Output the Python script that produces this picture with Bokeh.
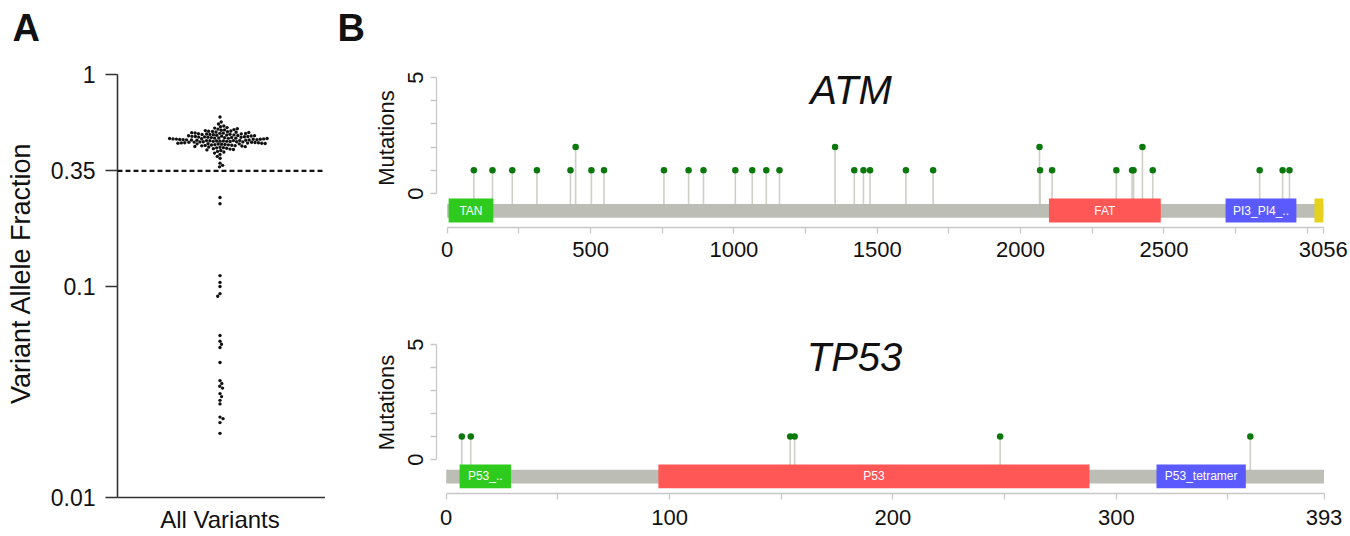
import math
from bokeh.plotting import figure
from bokeh.models import Range1d, FixedTicker, Span, Label
from bokeh.layouts import row, column
from bokeh.core.properties import value
from bokeh.embed import file_html
from bokeh.resources import INLINE

FONT = "Liberation Sans"
TEXT = "#111111"

# ---------------- data: panel A (variant allele fractions) ----------------
vaf_category = "All Variants"
vaf_cutoff = 0.35
vaf_ticks = [0.01, 0.1, 0.35, 1]
vaf_tick_labels = ["0.01", "0.1", "0.35", "1"]
vaf_values = [
    0.630, 0.596, 0.583, 0.571, 0.566, 0.561, 0.558, 0.554, 0.552, 0.549, 0.547, 0.545,
    0.543, 0.541, 0.539, 0.538, 0.536, 0.535, 0.533, 0.532, 0.531, 0.529, 0.528, 0.527, 0.526, 0.525,
    0.524, 0.523, 0.522, 0.521, 0.520, 0.519, 0.518, 0.517, 0.516, 0.515, 0.514,
    0.513, 0.512, 0.511, 0.510, 0.509, 0.509, 0.508, 0.507, 0.506, 0.505, 0.505, 0.504, 0.503, 0.502,
    0.501, 0.500, 0.500, 0.499, 0.498, 0.498, 0.497, 0.496, 0.496, 0.495, 0.494, 0.494, 0.493, 0.492,
    0.492, 0.491, 0.490, 0.490,
    0.489, 0.489, 0.488, 0.487, 0.487, 0.486, 0.485, 0.485, 0.484, 0.483, 0.483, 0.482, 0.481, 0.481,
    0.480, 0.480,
    0.479, 0.478, 0.478, 0.477, 0.476, 0.476, 0.475, 0.474, 0.473, 0.473, 0.472, 0.471, 0.470, 0.470,
    0.469, 0.468, 0.467, 0.466, 0.465, 0.464, 0.463, 0.462, 0.461, 0.460,
    0.459, 0.457, 0.456, 0.454, 0.453, 0.451, 0.450,
    0.448, 0.446, 0.444, 0.442, 0.440, 0.437, 0.433, 0.430, 0.425, 0.419, 0.410, 0.402,
    0.381, 0.372, 0.366,
    0.262, 0.245,
    0.112, 0.104, 0.0995, 0.092, 0.0895,
    0.0583, 0.0548, 0.0530, 0.0512,
    0.0435,
    0.0357, 0.0346, 0.0336, 0.0329, 0.0310, 0.0300, 0.0288, 0.0277,
    0.0240, 0.0236, 0.0226,
    0.0201,
]

# ---------------- data: panel B (lollipops) ----------------
atm_name = "ATM"
atm_length = 3056
atm_ticks = [0, 250, 500, 750, 1000, 1250, 1500, 1750, 2000, 2250, 2500, 2750, 3000, 3056]
atm_tick_labels = ["0", "", "500", "", "1000", "", "1500", "", "2000", "", "2500", "", "", "3056"]
atm_mut_pos = [93, 158, 227, 313, 430, 448, 503, 547, 756, 842, 894, 1005, 1064, 1113, 1159,
               1353, 1420, 1452, 1475, 1600, 1695, 2066, 2068, 2110, 2334, 2389, 2394, 2425,
               2461, 2834, 2914, 2938]
atm_mut_count = [1, 1, 1, 1, 1, 2, 1, 1, 1, 1, 1, 1, 1, 1, 1,
                 2, 1, 1, 1, 1, 1, 2, 1, 1, 1, 1, 1, 2,
                 1, 1, 1, 1]
atm_dom_name = ["TAN", "FAT", "PI3_PI4_..", ""]
atm_dom_start = [5, 2099, 2715, 3025]
atm_dom_end = [161, 2489, 2962, 3056]

tp53_name = "TP53"
tp53_length = 393
tp53_ticks = [0, 50, 100, 150, 200, 250, 300, 350, 393]
tp53_tick_labels = ["0", "", "100", "", "200", "", "300", "", "393"]
tp53_mut_pos = [7, 11, 154, 156, 248, 360]
tp53_mut_count = [1, 1, 1, 1, 1, 1]
tp53_dom_name = ["P53_..", "P53", "P53_tetramer"]
tp53_dom_start = [6, 95, 318]
tp53_dom_end = [29, 288, 358]

mut_ticks = [0, 1, 2, 3, 4, 5]
mut_tick_labels = ["0", "", "", "", "", "5"]

# ---------------- styles ----------------
DOM_COLORS = {"TAN": "#2ECB1E", "FAT": "#FF5656", "PI3_PI4_..": "#5A5AFF", "": "#E6D21E",
              "P53_..": "#2ECB1E", "P53": "#FF5656", "P53_tetramer": "#5A5AFF"}
BACKBONE = "#BCBDB5"
STEM = "#CFCFC8"
DOT = "#0B780B"
AXIS_B = "#C8C8C8"
AXIS_A = "#333333"


def swarm_offsets(ys, d):
    # place points centre-out (closest to the median first), each as near the axis as possible
    med = sorted(ys)[len(ys) // 2]
    order = sorted(range(len(ys)), key=lambda i: abs(ys[i] - med))
    placed = []
    out = [0.0] * len(ys)
    for k, i in enumerate(order):
        y = ys[i]
        near = [(px, py) for (px, py) in placed if abs(py - y) < d]
        cands = [0.0]
        for px, py in near:
            dx = math.sqrt(max(d * d - (py - y) ** 2, 0.0))
            cands += [px + dx, px - dx]
        pref_neg = (k % 2 == 1)
        cands.sort(key=lambda c: (round(abs(c), 6), (c > 0) if pref_neg else (c < 0)))
        for c in cands:
            if all((c - px) ** 2 + (y - py) ** 2 >= d * d - 1e-6 for px, py in near):
                out[i] = c
                break
        placed.append((out[i], y))
    return out


# ---------------- panel A ----------------
A_W, A_H = 325, 536
A_FL, A_FR, A_FT, A_FB = 117, 325, 48, 497      # frame edges in canvas pixels
A_Y1_PX = 74                                    # pixel row of VAF = 1
A_FW = A_FR - A_FL
A_PXDEC = (A_FB - A_Y1_PX) / 2.0
A_CENTER_PX = 102.5
ax0 = 1 - A_CENTER_PX / A_FW

pA = figure(width=A_W, height=A_H, y_axis_type="log", title="A",
            x_range=Range1d(ax0, ax0 + 1),
            y_range=Range1d(vaf_ticks[0], vaf_ticks[-1] * 10 ** ((A_Y1_PX - A_FT) / A_PXDEC)),
            min_border_left=A_FL, min_border_right=A_W - A_FR, min_border_top=A_FT,
            min_border_bottom=A_H - A_FB, output_backend="svg", toolbar_location=None)
pA.outline_line_color = None
pA.grid.visible = False
pA.background_fill_color = "white"
pA.border_fill_color = "white"
pA.title.text_font = FONT
pA.title.text_font_size = "38px"
pA.title.text_font_style = "bold"
pA.title.text_color = TEXT
pA.title.align = "left"
pA.title.offset = 12 - A_FL
pA.title.standoff = 0
pA.title.vertical_align = "bottom"

ypx = [math.log10(v) * A_PXDEC for v in vaf_values]
offs = swarm_offsets(ypx, 3.4)
pA.scatter(x=[1 + o / A_FW for o in offs], y=vaf_values, size=3.4,
           fill_color=TEXT, line_color=None)
pA.add_layout(Span(location=vaf_cutoff, dimension="width", line_color=TEXT,
                   line_width=2.2, line_dash="5 3"))

ya = pA.yaxis[0]
ya.ticker = FixedTicker(ticks=vaf_ticks, minor_ticks=[])
ya.major_label_overrides = dict(zip(vaf_ticks, vaf_tick_labels))
ya.bounds = (vaf_ticks[0], vaf_ticks[-1])
ya.axis_line_color = AXIS_A
ya.axis_line_width = 1.6
ya.major_tick_line_color = AXIS_A
ya.major_tick_line_width = 1.6
ya.major_tick_out = 12
ya.major_tick_in = 0
ya.minor_tick_line_color = None
ya.major_label_text_font = FONT
ya.major_label_text_font_size = "23px"
ya.major_label_text_color = TEXT
ya.major_label_standoff = 10
ya.axis_label = "Variant Allele Fraction"
ya.axis_label_text_font = FONT
ya.axis_label_text_font_size = "27px"
ya.axis_label_text_font_style = "normal"
ya.axis_label_text_color = TEXT
ya.axis_label_standoff = 12

xa = pA.xaxis[0]
xa.ticker = FixedTicker(ticks=[1])
xa.major_label_overrides = {1: vaf_category}
xa.axis_line_color = AXIS_A
xa.axis_line_width = 1.6
xa.major_tick_out = 0
xa.major_tick_in = 0
xa.major_tick_line_color = None
xa.minor_tick_line_color = None
xa.major_label_text_font = FONT
xa.major_label_text_font_size = "24px"
xa.major_label_text_color = TEXT
xa.major_label_standoff = 8


# ---------------- panel B ----------------
B_LEFT, B_W = 325, 1025


def lollipop(name, letter, length, ticks, tick_labels, mpos, mcount, dnames, dstart, dend,
             fig_top, height, frame_left, frame_top, frame_bottom, zero_x, zero_y,
             scale, unit, standoff, title_x, title_base):
    bl = frame_left - B_LEFT
    bt = frame_top - fig_top
    bb = fig_top + height - frame_bottom
    fw = B_W - bl
    x0 = (frame_left - zero_x) / scale
    x1 = x0 + fw / scale
    y0 = (zero_y - frame_bottom) / unit
    y1 = (zero_y - frame_top) / unit
    p = figure(width=B_W, height=height, x_range=Range1d(x0, x1), y_range=Range1d(y0, y1),
               title=letter,
               min_border_left=bl, min_border_right=0, min_border_top=bt,
               min_border_bottom=bb, output_backend="svg", toolbar_location=None)
    p.outline_line_color = None
    p.grid.visible = False
    p.background_fill_color = "white"
    p.border_fill_color = "white"
    p.title.text_font = FONT
    p.title.text_font_size = "38px"
    p.title.text_font_style = "bold"
    p.title.text_color = TEXT
    p.title.align = "left"
    p.title.offset = 336 - frame_left
    p.title.standoff = 0
    p.title.vertical_align = "bottom"

    p.segment(x0=mpos, y0=[-0.5] * len(mpos), x1=mpos, y1=mcount,
              line_color=STEM, line_width=1.6)
    p.quad(left=[0], right=[length], bottom=[-1.04], top=[-0.45],
           fill_color=BACKBONE, line_color=None)
    p.quad(left=dstart, right=dend, bottom=[-1.25] * len(dstart), top=[-0.22] * len(dstart),
           fill_color=[DOM_COLORS[n] for n in dnames], line_color=None)
    p.text(x=[(a + b) / 2 for a, b in zip(dstart, dend)], y=[-0.735] * len(dstart),
           text=dnames, text_color="white", text_font=value(FONT), text_font_size="12px",
           text_align="center", text_baseline="middle")
    p.scatter(x=mpos, y=mcount, size=6.5, fill_color=DOT, line_color=None)

    ya = p.yaxis[0]
    ya.ticker = FixedTicker(ticks=mut_ticks, minor_ticks=[])
    ya.major_label_overrides = dict(zip(mut_ticks, mut_tick_labels))
    ya.bounds = (mut_ticks[0], mut_ticks[-1])
    ya.axis_line_color = AXIS_B
    ya.axis_line_width = 1.3
    ya.major_tick_line_color = AXIS_B
    ya.major_tick_line_width = 1.3
    ya.major_tick_out = 6
    ya.major_tick_in = 0
    ya.minor_tick_line_color = None
    ya.major_label_orientation = "parallel"
    ya.major_label_text_font = FONT
    ya.major_label_text_font_size = "22px"
    ya.major_label_text_color = TEXT
    ya.major_label_standoff = 8
    ya.axis_label = "Mutations"
    ya.axis_label_text_font = FONT
    ya.axis_label_text_font_size = "22px"
    ya.axis_label_text_font_style = "normal"
    ya.axis_label_text_color = TEXT
    ya.axis_label_standoff = 6

    xa = p.xaxis[0]
    xa.ticker = FixedTicker(ticks=ticks, minor_ticks=[])
    xa.major_label_overrides = dict(zip(ticks, tick_labels))
    xa.bounds = (0, length)
    xa.axis_line_color = AXIS_B
    xa.axis_line_width = 1.3
    xa.major_tick_line_color = AXIS_B
    xa.major_tick_line_width = 1.3
    xa.major_tick_out = 6
    xa.major_tick_in = 0
    xa.minor_tick_line_color = None
    xa.major_label_text_font = FONT
    xa.major_label_text_font_size = "22px"
    xa.major_label_text_color = TEXT
    xa.major_label_standoff = standoff

    p.add_layout(Label(x=(title_x - zero_x) / scale, y=(zero_y - title_base) / unit, text=name,
                       text_font=FONT, text_font_size="40px", text_font_style="italic",
                       text_color=TEXT, text_align="center", text_baseline="alphabetic"))
    return p


pATM = lollipop(atm_name, "B", atm_length, atm_ticks, atm_tick_labels,
                atm_mut_pos, atm_mut_count, atm_dom_name, atm_dom_start, atm_dom_end,
                fig_top=0, height=270, frame_left=435, frame_top=48, frame_bottom=227,
                zero_x=445.7, zero_y=193, scale=(1322.8 - 445.7) / atm_length, unit=23.2,
                standoff=8, title_x=850, title_base=89)

pTP = lollipop(tp53_name, "", tp53_length, tp53_ticks, tp53_tick_labels,
               tp53_mut_pos, tp53_mut_count, tp53_dom_name, tp53_dom_start, tp53_dom_end,
               fig_top=270, height=266, frame_left=436, frame_top=311, frame_bottom=493,
               zero_x=445.7, zero_y=459, scale=(1323.5 - 445.7) / tp53_length, unit=23.0,
               standoff=10, title_x=854, title_base=356)

layout = row(pA, column(pATM, pTP))
open("out.html", "w").write(file_html(layout, INLINE))
